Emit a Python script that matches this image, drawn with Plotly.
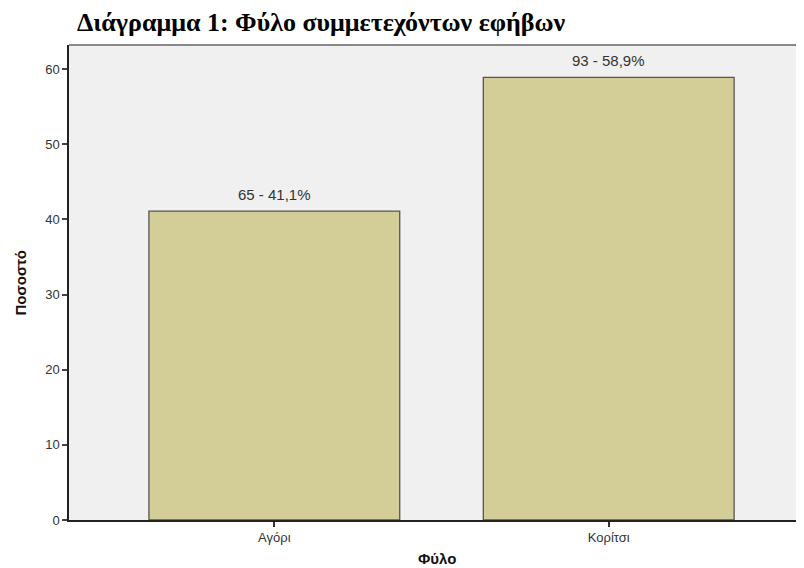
import plotly.graph_objects as go

categories = ["Αγόρι", "Κορίτσι"]
counts = [65, 93]
percents = [41.1, 58.9]
y_ticks = [0, 10, 20, 30, 40, 50, 60]

labels = [f"{c} - {str(p).replace('.', ',')}%" for c, p in zip(counts, percents)]

# The page body adds an 8px offset; the figure is sized so it fills the 804x568 window.
W, H = 796, 560
PW, PH = 735, 475  # plot area size in px

fig = go.Figure()
fig.add_trace(go.Bar(
    x=categories, y=percents, width=0.75,
    marker=dict(color="#D3CE97", line=dict(color="#555555", width=1.3)),
    hoverinfo="skip",
))
for cat, p, lab in zip(categories, percents, labels):
    fig.add_annotation(x=cat, y=p, text=lab, showarrow=False, yanchor="middle",
                       yshift=17, font=dict(family="Liberation Sans", size=15, color="#333333"))

fig.add_shape(type="line", xref="paper", yref="paper", x0=0, x1=1, y0=1, y1=1,
              line=dict(color="#888888", width=2))

# axis titles
fig.add_annotation(xref="paper", yref="paper", x=0.5, y=-38/PH, yanchor="middle",
                   text="<b>Φύλο</b>", showarrow=False,
                   font=dict(family="Liberation Sans", size=15, color="#111111"))
fig.add_annotation(xref="paper", yref="paper", x=-49/PW, y=0.5, xanchor="center",
                   text="<b>Ποσοστό</b>", showarrow=False, textangle=-90,
                   font=dict(family="Liberation Sans", size=15, color="#111111"))

fig.update_layout(
    width=W, height=H,
    margin=dict(l=61, r=0, t=37, b=48, autoexpand=False),
    paper_bgcolor="white", plot_bgcolor="#F0F0F0",
    showlegend=False,
    font=dict(family="Liberation Sans", color="#333333"),
    title=dict(text="<b>Διάγραμμα 1: Φύλο συμμετεχόντων εφήβων</b>",
               x=69/W, xanchor="left", y=1-14/H, yanchor="middle", automargin=False,
               font=dict(family="Liberation Serif", size=26, color="black")),
    xaxis=dict(range=[-0.614, 1.584], showline=True, linecolor="#222222", linewidth=1.5,
               ticks="outside", ticklen=5, tickcolor="#333333", tickwidth=1.5, automargin=False,
               tickfont=dict(size=13, color="#333333"), showgrid=False, zeroline=False),
    yaxis=dict(range=[0, 63.2], tickvals=y_ticks, showline=True, linecolor="#222222", linewidth=1.5,
               ticks="outside", ticklen=5, tickcolor="#444444", tickwidth=1.5, automargin=False,
               tickfont=dict(size=13, color="#333333"), showgrid=False, zeroline=False),
)

fig.write_html("out.html")
